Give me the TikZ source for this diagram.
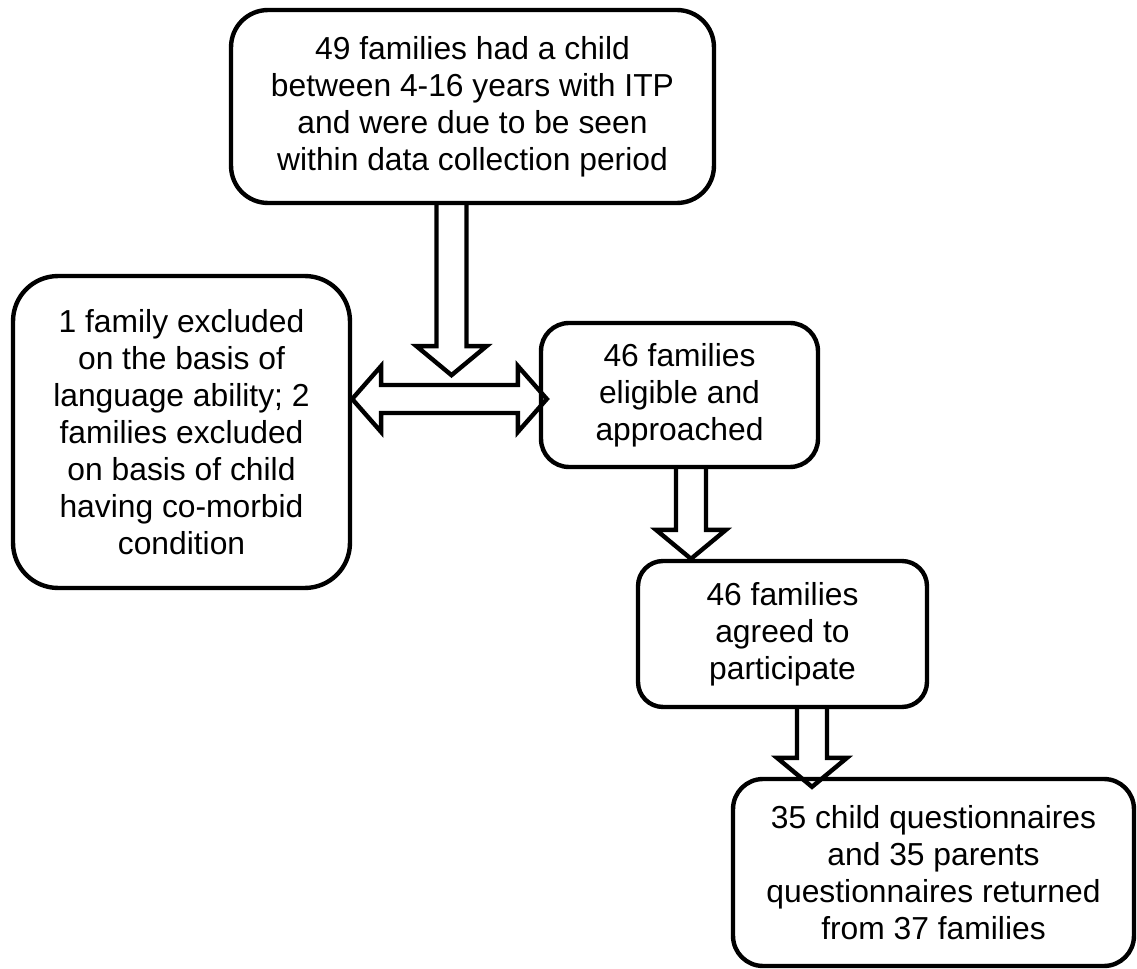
\documentclass[tikz,border=0pt]{standalone}
\usepackage{fontspec}
\setmainfont{Liberation Sans}
\usetikzlibrary{calc}

\tikzset{
  flowbox/.style={draw, line width=2.5pt, rounded corners=0.6cm, align=center, inner sep=0pt,
    font=\fontsize{18.1}{21}\selectfont},
  blockarrow/.style={line width=2.5pt, line join=miter}
}
% hollow block arrow pointing down, from #1 to tip #2
\newcommand{\flowarrow}[2]{%
  \draw[blockarrow] ($(#1)+(-15,0)$) -- ($(#2)+(-15,-29)$) -- ($(#2)+(-35,-29)$) -- (#2)
    -- ($(#2)+(35,-29)$) -- ($(#2)+(15,-29)$) -- ($(#1)+(15,0)$);}

\begin{document}
\begin{tikzpicture}[x=0.02cm, y=-0.02cm]
  \useasboundingbox (0,0) rectangle (1137,969);
  % boxes
  \node[flowbox, rounded corners=0.74cm, minimum width=9.66cm, minimum height=3.86cm] (pool) at (472.5,106.5)
    {49 families had a child\\between 4-16 years with ITP\\and were due to be seen\\within data collection period};
  \node[flowbox, rounded corners=0.9cm, minimum width=6.74cm, minimum height=6.24cm] (excl) at (181.5,432)
    {1 family excluded\\on the basis of\\language ability; 2\\families excluded\\on basis of child\\having co-morbid\\condition};
  \node[flowbox, rounded corners=0.56cm, minimum width=5.54cm, minimum height=2.88cm] (elig) at (679.5,395)
    {46 families\\eligible and\\approached};
  \node[flowbox, rounded corners=0.5cm, minimum width=5.78cm, minimum height=2.92cm] (agree) at (782.5,634)
    {46 families\\agreed to\\participate};
  \node[flowbox, rounded corners=0.6cm, minimum width=8.02cm, minimum height=3.74cm] (ret) at (933.5,872.5)
    {35 child questionnaires\\and 35 parents\\questionnaires returned\\from 37 families};

  % arrows
  \coordinate (a1) at ($(pool.south)+(-21,0)$);
  \coordinate (a2) at ($(a1)+(0,170)$);
  \flowarrow{a1}{a2}
  \coordinate (b1) at ($(elig.south)+(11.5,0)$);
  \coordinate (b2) at (b1 |- agree.north);
  \flowarrow{b1}{b2}
  \coordinate (c1) at ($(agree.south)+(29.5,0)$);
  \coordinate (c2) at ($(c1 |- ret.north)+(0,10)$);
  \flowarrow{c1}{c2}

  \coordinate (dl) at ($(excl.east)+(0,-33)$);
  \coordinate (dr) at ($(elig.west)+(8,4)$);
  \draw[blockarrow] (dl) -- ($(dl)+(29,-33)$) -- ($(dl)+(29,-14)$) -- ($(dr)+(-29,-14)$)
    -- ($(dr)+(-29,-33)$) -- (dr) -- ($(dr)+(-29,33)$) -- ($(dr)+(-29,14)$)
    -- ($(dl)+(29,14)$) -- ($(dl)+(29,33)$) -- cycle;
\end{tikzpicture}
\end{document}
